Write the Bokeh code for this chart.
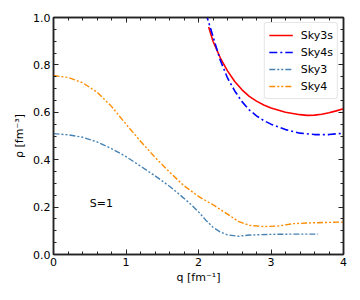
from bokeh.plotting import figure
from bokeh.embed import file_html
from bokeh.resources import INLINE
from bokeh.models import FixedTicker, PrintfTickFormatter, LinearAxis, Legend, LegendItem, Label, Range1d
from bokeh.core.properties import value

# Data
q_sky3s = [2.14, 2.2, 2.3, 2.4, 2.5, 2.6, 2.7, 2.8, 2.9, 3.0, 3.2, 3.4, 3.5, 3.6, 3.7, 3.8, 3.9, 4.0]
rho_sky3s = [0.96, 0.90, 0.83, 0.775, 0.73, 0.695, 0.667, 0.647, 0.631, 0.618, 0.600, 0.590, 0.587, 0.588, 0.592, 0.598, 0.606, 0.615]

q_sky4s = [2.1, 2.15, 2.2, 2.3, 2.4, 2.5, 2.6, 2.7, 2.8, 2.9, 3.0, 3.2, 3.4, 3.6, 3.8, 4.0]
rho_sky4s = [1.02, 0.97, 0.92, 0.82, 0.745, 0.69, 0.645, 0.61, 0.585, 0.565, 0.55, 0.527, 0.512, 0.506, 0.506, 0.512]

q_sky3 = [0.0, 0.2, 0.4, 0.6, 0.8, 1.0, 1.2, 1.4, 1.6, 1.75, 1.9, 2.0, 2.1, 2.2, 2.3, 2.4, 2.55, 2.7, 3.0, 3.3, 3.65]
rho_sky3 = [0.51, 0.505, 0.495, 0.475, 0.447, 0.413, 0.373, 0.332, 0.288, 0.25, 0.21, 0.18, 0.145, 0.115, 0.095, 0.083, 0.077, 0.082, 0.085, 0.086, 0.086]

q_sky4 = [0.0, 0.2, 0.4, 0.6, 0.8, 1.0, 1.2, 1.4, 1.6, 1.8, 2.0, 2.2, 2.4, 2.55, 2.7, 2.9, 3.1, 3.3, 3.6, 4.0]
rho_sky4 = [0.755, 0.747, 0.725, 0.685, 0.625, 0.55, 0.478, 0.41, 0.348, 0.29, 0.245, 0.21, 0.17, 0.14, 0.123, 0.118, 0.12, 0.13, 0.134, 0.137]

x_ticks = [0, 1, 2, 3, 4]
y_ticks = [0.0, 0.2, 0.4, 0.6, 0.8, 1.0]
x_minor = [i * 0.2 for i in range(21)]
y_minor = [i * 0.05 for i in range(21)]

FONT = "DejaVu Sans"

p = figure(width=352, height=292, output_backend="svg", toolbar_location=None,
           x_range=Range1d(0, 4), y_range=Range1d(0, 1.0),
           min_border_left=53, min_border_right=9, min_border_top=17, min_border_bottom=38)
p.background_fill_color = "white"
p.border_fill_color = "white"
p.outline_line_color = "#222222"
p.outline_line_width = 1.5
p.xgrid.visible = False
p.ygrid.visible = False

r1 = p.line(q_sky3s, rho_sky3s, line_color="red", line_width=1.6)
r2 = p.line(q_sky4s, rho_sky4s, line_color="blue", line_width=1.6, line_dash="8 3 2 3")
r3 = p.line(q_sky3, rho_sky3, line_color="steelblue", line_width=1.4, line_dash="6 2 2 2 2 2")
r4 = p.line(q_sky4, rho_sky4, line_color="darkorange", line_width=1.4, line_dash="6 2 2 2 2 2")


def style_axis(ax, labels=True):
    ax.major_tick_in = 5
    ax.major_tick_out = 0
    ax.minor_tick_in = 3
    ax.minor_tick_out = 0
    ax.axis_line_color = "#222222"
    ax.axis_line_width = 1.5
    ax.major_tick_line_color = "#222222"
    ax.minor_tick_line_color = "#222222"
    ax.major_tick_line_width = 1
    ax.major_label_text_font = FONT
    ax.major_label_text_font_size = "11px"
    ax.major_label_text_color = "black"
    ax.axis_label_text_font = FONT
    ax.axis_label_text_font_size = "11px"
    ax.axis_label_text_font_style = "normal"
    ax.axis_label_text_color = "black"
    if not labels:
        ax.major_label_text_font_size = "0px"
        ax.major_label_text_alpha = 0


xt = FixedTicker(ticks=x_ticks, minor_ticks=x_minor)
yt = FixedTicker(ticks=y_ticks, minor_ticks=y_minor)

p.xaxis.ticker = xt
p.yaxis.ticker = yt
p.yaxis.formatter = PrintfTickFormatter(format="%.1f")
p.xaxis.axis_label = "q [fm\u207b\u00b9]"
p.yaxis.axis_label = "\u03c1 [fm\u207b\u00b3]"
for ax in p.xaxis:
    style_axis(ax)
    ax.major_label_standoff = 3
    ax.axis_label_standoff = 2
for ax in p.yaxis:
    style_axis(ax)
    ax.major_label_standoff = 3
    ax.axis_label_standoff = 4

top = LinearAxis(ticker=FixedTicker(ticks=x_ticks, minor_ticks=x_minor))
style_axis(top, labels=False)
top.major_label_standoff = 0
p.add_layout(top, "above")
right = LinearAxis(ticker=FixedTicker(ticks=y_ticks, minor_ticks=y_minor))
style_axis(right, labels=False)
right.major_label_standoff = 0
p.add_layout(right, "right")

legend = Legend(items=[
    LegendItem(label="Sky3s", renderers=[r1]),
    LegendItem(label="Sky4s", renderers=[r2]),
    LegendItem(label="Sky3", renderers=[r3]),
    LegendItem(label="Sky4", renderers=[r4]),
], location="top_right")
legend.label_text_font = FONT
legend.label_text_font_size = "11px"
legend.label_text_color = "black"
legend.border_line_color = "#cccccc"
legend.border_line_width = 1
legend.background_fill_alpha = 0.9
legend.margin = 5
legend.padding = 4
legend.spacing = 1
legend.glyph_width = 24
legend.glyph_height = 16
legend.label_height = 16
legend.label_standoff = 8
legend.border_radius = 3
p.add_layout(legend, "center")

lab = Label(x=0.5, y=0.215, text="S=1", text_font=FONT, text_font_size="11px",
            text_baseline="middle", text_align="left", text_color="black")
p.add_layout(lab)

open("out.html", "w").write(file_html(p, INLINE))
